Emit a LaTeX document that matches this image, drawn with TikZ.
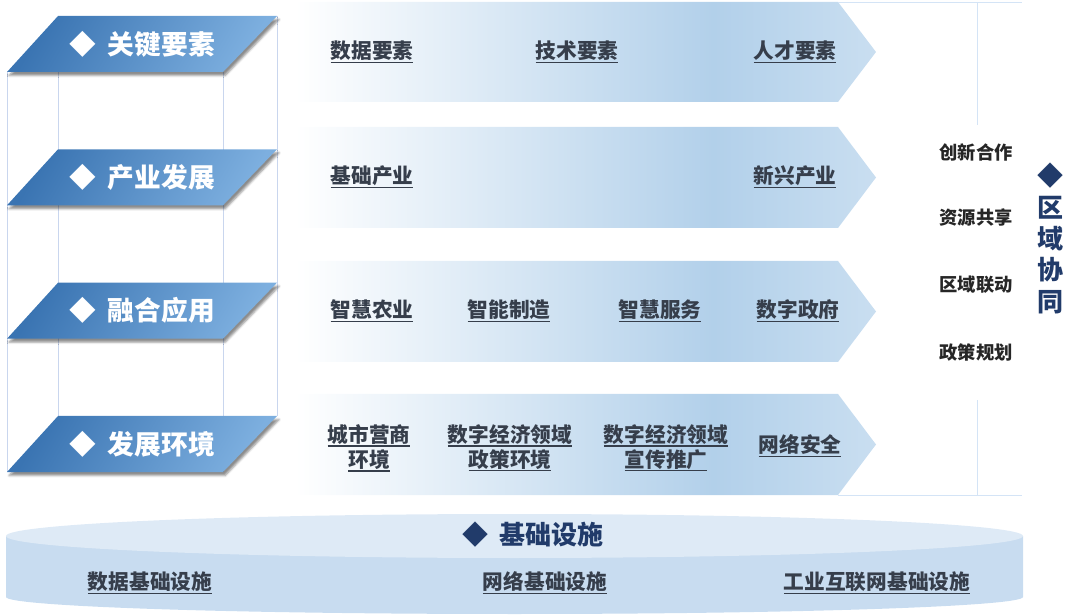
\documentclass[tikz,border=0pt]{standalone}
\usepackage{fontspec}
\setmainfont{Noto Sans CJK SC}
\usetikzlibrary{positioning,shadows.blur}

\definecolor{paradark}{HTML}{3A74B2}
\definecolor{paralight}{HTML}{7DAFDF}
\definecolor{bandblue}{HTML}{B2D0EA}
\definecolor{framecol}{HTML}{C9D6EE}
\definecolor{edgecol}{HTML}{D4E4F6}
\definecolor{txtgray}{HTML}{363E4B}
\definecolor{navy}{HTML}{213B6A}
\definecolor{disktop}{HTML}{DEEAF6}
\definecolor{diskside}{HTML}{C8DCF0}

\pgfdeclarehorizontalshading{bandshade}{100bp}{color(0bp)=(white); color(25bp)=(white); color(61bp)=(bandblue); color(75bp)=(bandblue!70!white); color(100bp)=(bandblue!70!white)}

\newcommand{\ulin}[1]{\setbox0\hbox{#1}\rlap{\rule[-3pt]{\wd0}{1pt}}\box0}

\tikzset{
  parabox/.style={left color=paradark, right color=paralight, shading angle=60,
    blur shadow={shadow xshift=1.5pt, shadow yshift=-2.5pt, shadow blur steps=4, shadow blur radius=1.5pt, shadow opacity=45}},
  keylbl/.style={text=white, font=\fontsize{19}{22}\selectfont\bfseries},
  itemlbl/.style={text=txtgray, font=\fontsize{14.7}{17.7}\selectfont\bfseries, align=center},
  sidelbl/.style={text=black!85, font=\fontsize{13}{15}\selectfont\bfseries},
  navylbl/.style={text=navy, font=\fontsize{18.5}{22.3}\selectfont\bfseries, align=center},
  frameline/.style={draw=framecol, line width=0.6pt},
  edgeline/.style={draw=edgecol, line width=0.6pt},
}

\begin{document}
\begin{tikzpicture}[x=0.025cm, y=-0.025cm]
    \useasboundingbox (0,0) rectangle (1080,616);
    \def\h{56}

    % box edges behind
    \draw[frameline] (7,72) -- (7,472);
    \draw[frameline] (58,16) -- (58,416);
    \draw[frameline] (223,72) -- (223,472);
    \draw[frameline] (277,16) -- (277,416);

    % bands
    \shade[shading=bandshade] (295,2) -- (838,2) -- (876,52) -- (838,102) -- (295,102) -- cycle;
    \shade[shading=bandshade] (295,127) -- (838,127) -- (876,177.5) -- (838,228) -- (295,228) -- cycle;
    \shade[shading=bandshade] (295,261) -- (838,261) -- (876,311.5) -- (838,362) -- (295,362) -- cycle;
    \shade[shading=bandshade] (295,394) -- (838,394) -- (876,444.5) -- (838,495) -- (295,495) -- cycle;

    % right frame
    \draw[edgeline] (838,2) -- (1022,2);
    \draw[edgeline] (838,495) -- (1022,495);
    \draw[edgeline] (977,2) -- (977,125);
    \draw[edgeline] (977,400) -- (977,495);

    % left layers
    \begin{scope}
    \path[parabox] (58,16) -- (277,16) -- (223,16+\h) -- (7,16+\h) -- cycle;
    \node[keylbl] (key) at (142,44) {◆\hspace{0.45em}关键要素};
    \end{scope}
    \begin{scope}[yshift=-133.3*0.025cm]
    \path[parabox] (58,16) -- (277,16) -- (223,16+\h) -- (7,16+\h) -- cycle;
    \node[keylbl] (ind) at (142,44) {◆\hspace{0.45em}产业发展};
    \end{scope}
    \begin{scope}[yshift=-266.7*0.025cm]
    \path[parabox] (58,16) -- (277,16) -- (223,16+\h) -- (7,16+\h) -- cycle;
    \node[keylbl] (fus) at (142,44) {◆\hspace{0.45em}融合应用};
    \end{scope}
    \begin{scope}[yshift=-400*0.025cm]
    \path[parabox] (58,16) -- (277,16) -- (223,16+\h) -- (7,16+\h) -- cycle;
    \node[keylbl] (env) at (142,44) {◆\hspace{0.45em}发展环境};
    \end{scope}

    % band items
    \node[itemlbl] (data) at (372,52) {\ulin{数据要素}};
    \node[itemlbl] (tech) at (577,52) {\ulin{技术要素}};
    \node[itemlbl] (talent) at (795,52) {\ulin{人才要素}};
    \node[itemlbl] (base) at (372,177) {\ulin{基础产业}};
    \node[itemlbl] (emerge) at (795,177) {\ulin{新兴产业}};
    \node[itemlbl] (agri) at (372,311) {\ulin{智慧农业}};
    \node[itemlbl] (manu) at (509,311) {\ulin{智能制造}};
    \node[itemlbl] (serv) at (660,311) {\ulin{智慧服务}};
    \node[itemlbl] (gov) at (798,311) {\ulin{数字政府}};
    \node[itemlbl] (city) at (369,448) {\ulin{城市营商}\\\ulin{环境}};
    \node[itemlbl] (policy) at (510,448) {\ulin{数字经济领域}\\\ulin{政策环境}};
    \node[itemlbl] (promo) at (666,448) {\ulin{数字经济领域}\\\ulin{宣传推广}};
    \node[itemlbl] (netsec) at (800,446) {\ulin{网络安全}};

    % regional
    \node[sidelbl] (coop) at (976,152) {创新合作};
    \node[sidelbl] (share) at (976,218) {资源共享};
    \node[sidelbl] (link) at (976,285) {区域联动};
    \node[sidelbl] (plan) at (976,352) {政策规划};
    \node[navylbl] (region) at (1050,238.5) {◆\\区\\域\\协\\同};

    % base disk
    \fill[diskside] (6,536) -- (6,597) arc[start angle=180, end angle=0, x radius=508.5, y radius=17] -- (1023,536) -- cycle;
    \fill[disktop] (514.5,536) ellipse[x radius=508.5, y radius=22];
    \node[navylbl] (infra) at (533,535) {◆\hspace{0.45em}基础设施};
    \node[itemlbl] (datainf) at (150,583) {\ulin{数据基础设施}};
    \node[itemlbl] (netinf) at (545,583) {\ulin{网络基础设施}};
    \node[itemlbl] (indinf) at (877,583) {\ulin{工业互联网基础设施}};
\end{tikzpicture}
\end{document}
